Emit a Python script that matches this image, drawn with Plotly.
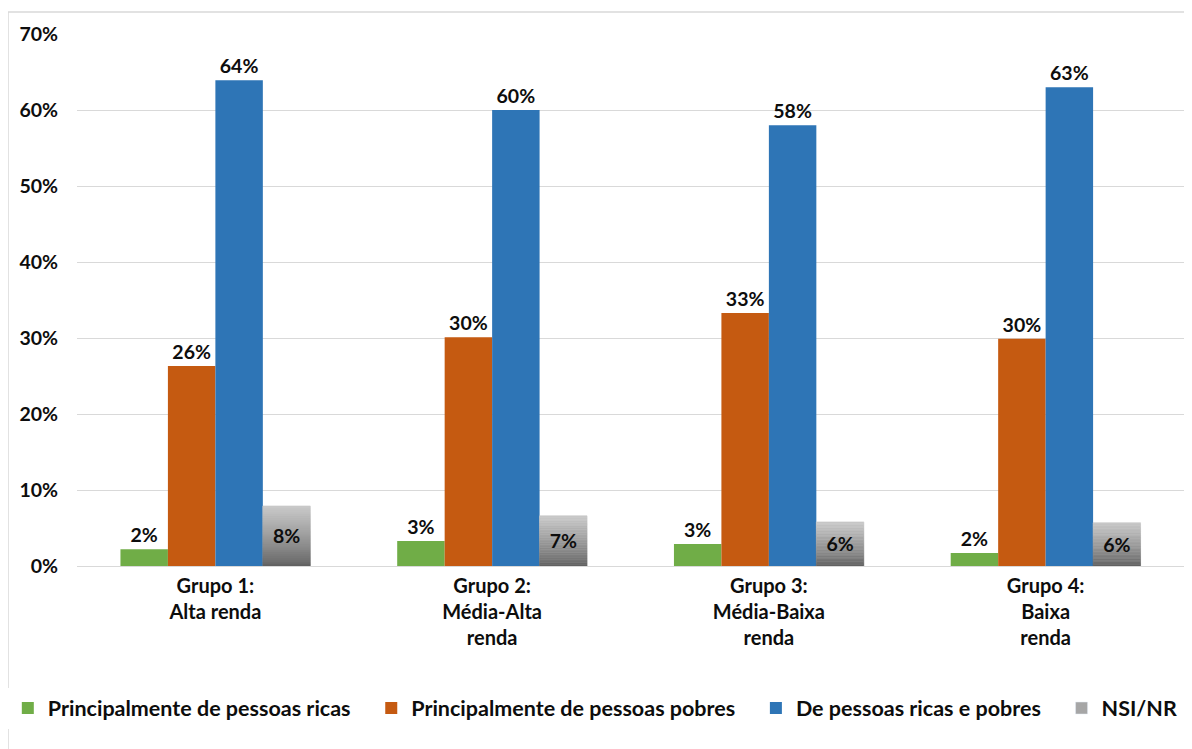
import plotly.graph_objects as go

categories = ["Grupo 1:<br>Alta renda", "Grupo 2:<br>Média-Alta<br>renda",
              "Grupo 3:<br>Média-Baixa<br>renda", "Grupo 4:<br>Baixa<br>renda"]
ricas = [0.022, 0.033, 0.029, 0.017]
pobres = [0.263, 0.301, 0.333, 0.299]
ambos = [0.639, 0.600, 0.580, 0.630]
nsi = [0.079, 0.066, 0.058, 0.057]
series_names = ["Principalmente de pessoas ricas", "Principalmente de pessoas pobres",
                "De pessoas ricas e pobres", "NSI/NR"]
y_ticks = [0, 0.1, 0.2, 0.3, 0.4, 0.5, 0.6, 0.7]

FONT = "Lato"
TXT = "#0d0d0d"
# the page body adds an 8px offset; figure occupies x 8..1192, y 8..749
W, H = 1184, 741
ML, MR, MT, MB = 69, 8, 26, 183
SP = "\u00a0" * 3

def pct(v):
    return [f"{round(x*100)}%" for x in v]

def bfont(size):
    return dict(family=FONT, size=size, color=TXT, weight="bold")

fig = go.Figure()
for vals, name, col, grp in [(ricas, series_names[0], "#70ad47", "a"),
                             (pobres, series_names[1], "#c55a11", "b"),
                             (ambos, series_names[2], "#2e75b6", "c")]:
    fig.add_trace(go.Bar(x=categories, y=vals, name=name + SP, offsetgroup=grp,
                         marker=dict(color=col, line=dict(width=0)),
                         text=pct(vals),
                         textposition="outside",
                         textfont=bfont(19.5),
                         cliponaxis=False))

# gradient grey bars (stacked slices of each value)
N = 30
top = (200, 200, 200)
bot = (98, 98, 98)
for k in range(N):
    t = k / (N - 1)
    tt = t ** 0.8
    c = tuple(int(bot[i] + (top[i] - bot[i]) * tt) for i in range(3))
    fig.add_trace(go.Bar(x=categories, y=[v / N for v in nsi],
                         base=[v * k / N for v in nsi], offsetgroup="d",
                         marker=dict(color=f"rgb{c}", line=dict(width=0.6, color=f"rgb{c}")),
                         showlegend=False, hoverinfo="skip"))
fig.add_trace(go.Bar(x=categories, y=nsi, base=[0]*4, offsetgroup="d",
                     marker=dict(color="rgba(0,0,0,0)", line=dict(width=0)),
                     text=pct(nsi), textposition="inside", insidetextanchor="middle",
                     textfont=bfont(19.5),
                     showlegend=False))
fig.add_trace(go.Bar(x=categories, y=[None]*4, offsetgroup="d", name=series_names[3],
                     marker=dict(color="#a6a6a6")))

fig.update_layout(
    width=W, height=H,
    margin=dict(l=ML, r=MR, t=MT, b=MB, autoexpand=False),
    paper_bgcolor="white", plot_bgcolor="white",
    barmode="group", bargap=0.314, bargroupgap=0,
    font=dict(family=FONT, size=19, color=TXT),
    showlegend=True,
    legend=dict(orientation="h", x=-0.0625, xanchor="left",
                y=-0.267, yanchor="middle",
                font=bfont(21.5),
                traceorder="normal", itemwidth=30),
    yaxis=dict(range=[0, 0.7], tickvals=y_ticks, tickformat=".0%",
               showgrid=True, gridcolor="#d9d9d9", gridwidth=1,
               zeroline=True, zerolinecolor="#d9d9d9", zerolinewidth=1,
               showline=False, ticks="", ticklabelstandoff=18,
               tickfont=bfont(19.5)),
    xaxis=dict(showline=False, ticks="", tickfont=bfont(20),
               ticklabelstandoff=6),
)

pw = W - ML - MR
ph = H - MT - MB
# border frame (page coords x 8..1185, y 12..beyond bottom)
fx0, fx1, fy0, fy1 = 0, 1177, 4, 760
fig.add_shape(type="rect", xref="paper", yref="paper",
              x0=(fx0 - ML) / pw, x1=(fx1 - ML) / pw,
              y0=(H - MB - fy1) / ph, y1=(H - MB - fy0) / ph,
              line=dict(color="#d9d9d9", width=1.5), layer="below")

fig.write_html("out.html")
